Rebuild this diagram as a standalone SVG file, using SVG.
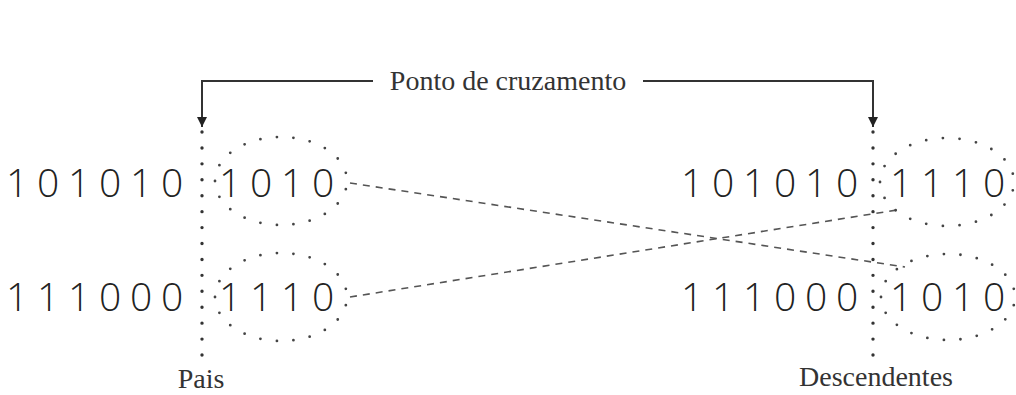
<svg xmlns="http://www.w3.org/2000/svg" width="1016" height="395" viewBox="0 0 1016 395">
<style>
.bits{font-family:"Open Sans","Liberation Sans",sans-serif;font-weight:300;font-size:39px;fill:#222}
.lbl{font-family:"Liberation Serif","Times New Roman",serif;font-size:28px;fill:#333}
.cut{fill:none;stroke:#333;stroke-width:3.4;stroke-linecap:round;stroke-dasharray:0 15.93}
.ell{fill:none;stroke:#444;stroke-width:2.8;stroke-linecap:round;stroke-dasharray:0 1}
.dash{fill:none;stroke:#555;stroke-width:1.6;stroke-dasharray:7 6}
.ptr{fill:none;stroke:#333;stroke-width:2}
</style>
<defs>
<marker id="ah" viewBox="0 0 10 10" refX="10" refY="5" markerWidth="10" markerHeight="10" markerUnits="userSpaceOnUse" orient="auto">
<path d="M0,0 L10,5 L0,10 Z" fill="#222"/>
</marker>
</defs>
<rect width="1016" height="395" fill="#fff"/>
<g id="crossover-label">
<text class="lbl" x="508" y="90" text-anchor="middle">Ponto de cruzamento</text>
</g>
<g id="connectors">
<path class="ptr" d="M373,81 H202 V127" marker-end="url(#ah)"/>
<path class="ptr" d="M643,81 H873 V127" marker-end="url(#ah)"/>
<line class="dash" x1="350" y1="183" x2="905" y2="267"/>
<line class="dash" x1="350" y1="297" x2="897" y2="210"/>
</g>
<g id="parents">
<line class="cut" x1="202" y1="132" x2="202" y2="356"/>
<text class="bits" x="6 37 68 99 130 161" y="197">101010</text>
<text class="bits" x="6 37 68 99 130 161" y="311">111000</text>
<path class="ell" pathLength="21" d="M215,181 A66,44 0 1,1 347,181 A66,44 0 1,1 215,181 Z"/>
<path class="ell" pathLength="21" d="M215,297 A66,44 0 1,1 347,297 A66,44 0 1,1 215,297 Z"/>
<text class="bits" x="219 250 281 312" y="197">1010</text>
<text class="bits" x="219 250 281 312" y="311">1110</text>
<text class="lbl" x="201" y="388" text-anchor="middle">Pais</text>
</g>
<g id="offspring">
<line class="cut" x1="873" y1="132" x2="873" y2="356"/>
<text class="bits" x="681 712 743 774 805 836" y="197">101010</text>
<text class="bits" x="681 712 743 774 805 836" y="311">111000</text>
<path class="ell" pathLength="21" d="M880,182 A67,44 0 1,1 1014,182 A67,44 0 1,1 880,182 Z"/>
<path class="ell" pathLength="21" d="M881,297 A67,43 0 1,1 1015,297 A67,43 0 1,1 881,297 Z"/>
<text class="bits" x="890 921 952 983" y="197">1110</text>
<text class="bits" x="890 921 952 983" y="311">1010</text>
<text class="lbl" x="876" y="386" text-anchor="middle">Descendentes</text>
</g>
</svg>
